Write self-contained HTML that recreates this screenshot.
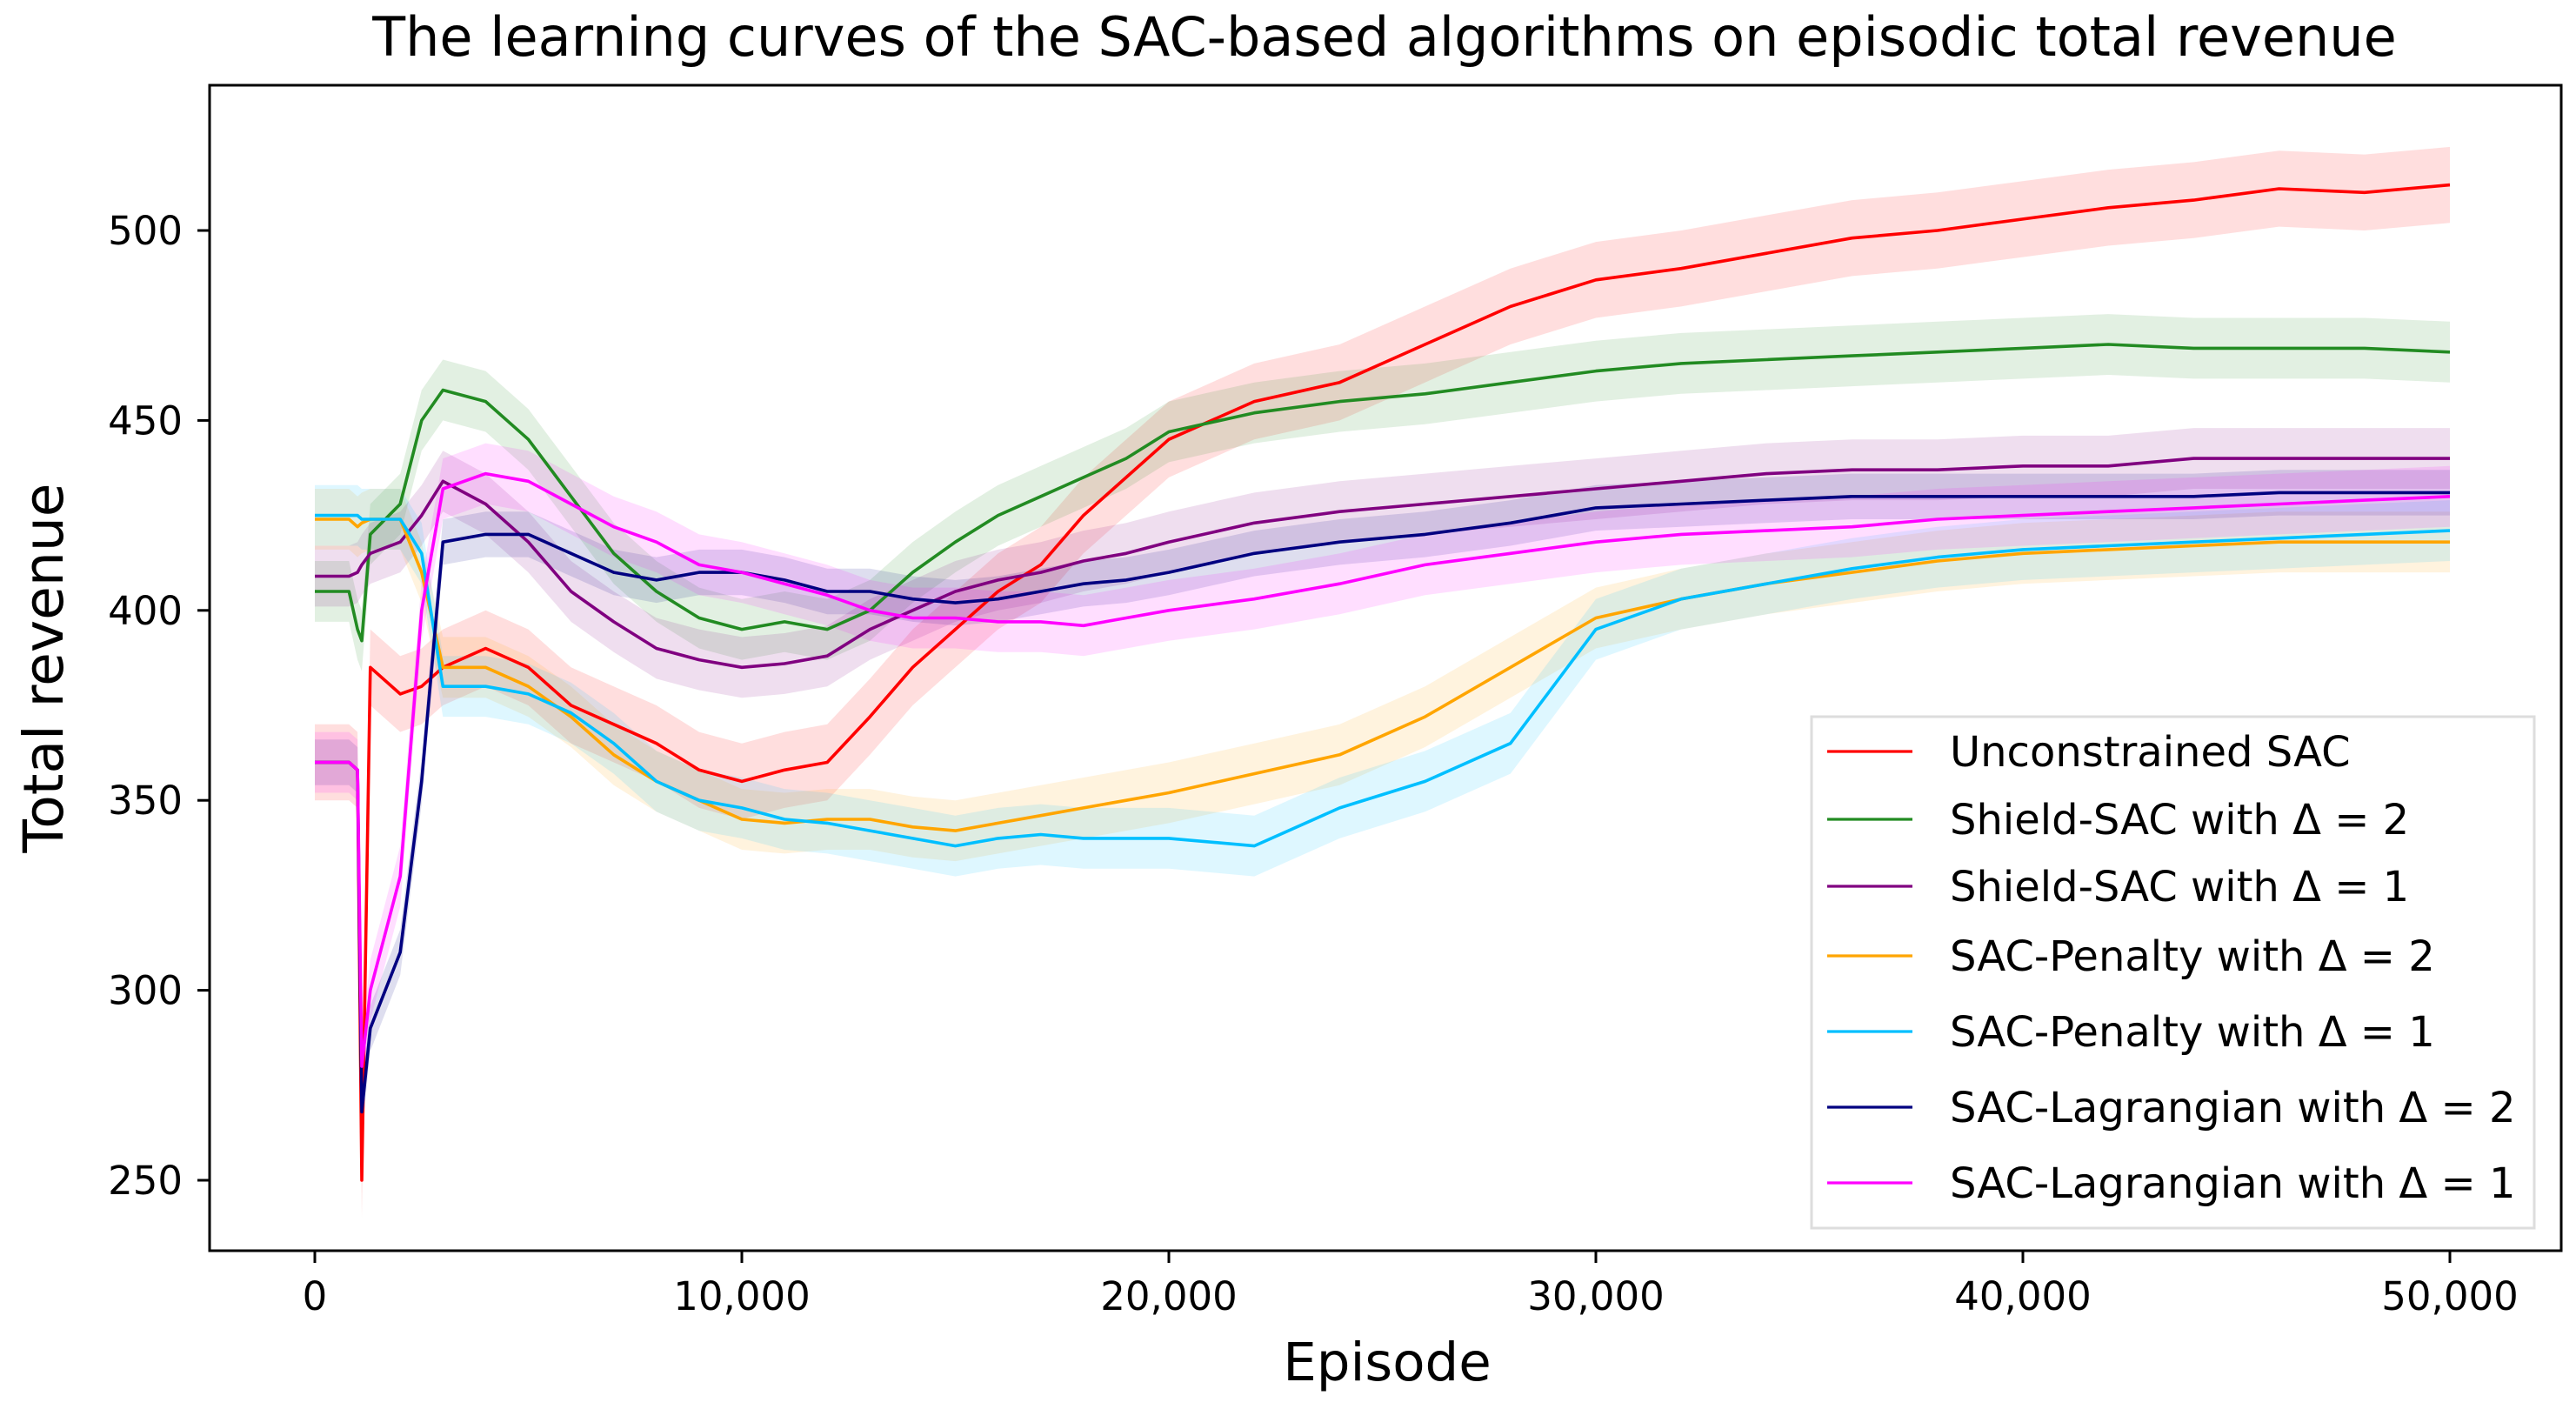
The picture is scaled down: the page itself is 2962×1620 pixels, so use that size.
<!DOCTYPE html>
<html><head><meta charset="utf-8">
<style>
html,body{margin:0;padding:0;background:#fff;}
svg{display:block;font-family:"DejaVu Sans","Liberation Sans",sans-serif;}
</style></head>
<body>
<svg id="chart" width="2962" height="1620" viewBox="0 0 2962 1620" xmlns="http://www.w3.org/2000/svg">
<text x="1592" y="64" font-size="62" text-anchor="middle" fill="#000">The learning curves of the SAC-based algorithms on episodic total revenue</text>
<g id="bands"></g>
<g id="lines"></g>
<rect x="241" y="98" width="2704" height="1340" fill="none" stroke="#000" stroke-width="3"/>
<g id="xticks"></g>
<g id="yticks"></g>
<text x="1595" y="1587" font-size="61" text-anchor="middle">Episode</text>
<text transform="translate(72,768) rotate(-90)" font-size="63" text-anchor="middle">Total revenue</text>
<g id="legend">
<rect x="2083" y="824" width="831" height="588" fill="#fff" fill-opacity="0.9" stroke="#ddd" stroke-width="3"/>
</g>
</svg>
<script>
const episodes=[0,800,1000,1100,1300,2000,2500,3000,4000,5000,6000,7000,8000,9000,10000,11000,12000,13000,14000,15000,16000,17000,18000,19000,20000,22000,24000,26000,28000,30000,32000,34000,36000,38000,40000,42000,44000,46000,48000,50000];
const seriesNames=["Unconstrained SAC","Shield-SAC with Δ = 2","Shield-SAC with Δ = 1","SAC-Penalty with Δ = 2","SAC-Penalty with Δ = 1","SAC-Lagrangian with Δ = 2","SAC-Lagrangian with Δ = 1"];
const seriesColors=["#ff0000","#228b22","#800080","#ffa500","#00bfff","#000080","#ff00ff"];
const redValues=[360,360,358,250,385,378,380,385,390,385,375,370,365,358,355,358,360,372,385,395,405,412,425,435,445,455,460,470,480,487,490,494,498,500,503,506,508,511,510,512];
const greenValues=[405,405,395,392,420,428,450,458,455,445,430,415,405,398,395,397,395,400,410,418,425,430,435,440,447,452,455,457,460,463,465,466,467,468,469,470,469,469,469,468];
const purpleValues=[409,409,410,412,415,418,425,434,428,418,405,397,390,387,385,386,388,395,400,405,408,410,413,415,418,423,426,428,430,432,434,436,437,437,438,438,440,440,440,440];
const orangeValues=[424,424,422,423,424,424,410,385,385,380,372,362,355,350,345,344,345,345,343,342,344,346,348,350,352,357,362,372,385,398,403,407,410,413,415,416,417,418,418,418];
const cyanValues=[425,425,425,424,424,424,415,380,380,378,373,365,355,350,348,345,344,342,340,338,340,341,340,340,340,338,348,355,365,395,403,407,411,414,416,417,418,419,420,421];
const navyValues=[360,360,358,268,290,310,355,418,420,420,415,410,408,410,410,408,405,405,403,402,403,405,407,408,410,415,418,420,423,427,428,429,430,430,430,430,430,431,431,431];
const magentaValues=[360,360,358,280,300,330,400,432,436,434,428,422,418,412,410,407,404,400,398,398,397,397,396,398,400,403,407,412,415,418,420,421,422,424,425,426,427,428,429,430];
const bandHalfWidths=[10,8,8,8,8,6,8];
const xTicks=[0,10000,20000,30000,40000,50000];
const xTickLabels=["0","10,000","20,000","30,000","40,000","50,000"];
const yTicks=[250,300,350,400,450,500];
const yTickLabels=["250","300","350","400","450","500"];

const allValues=[redValues,greenValues,purpleValues,orangeValues,cyanValues,navyValues,magentaValues];
const NS="http://www.w3.org/2000/svg";
function xs(e){return 362+(e/50000)*(2817-362);}
function ys(v){return 1357-(v-250)/250*(1357-265);}
function mk(tag,attrs,parent){const el=document.createElementNS(NS,tag);for(const k in attrs)el.setAttribute(k,attrs[k]);parent.appendChild(el);return el;}
const bands=document.getElementById('bands'),lines=document.getElementById('lines');
allValues.forEach((vals,i)=>{
  const hw=bandHalfWidths[i];
  let up=episodes.map((e,j)=>xs(e).toFixed(1)+','+ys(vals[j]+hw).toFixed(1));
  let dn=episodes.map((e,j)=>xs(e).toFixed(1)+','+ys(vals[j]-hw).toFixed(1)).reverse();
  const b=mk('polygon',{points:up.concat(dn).join(' '),fill:seriesColors[i],'fill-opacity':0.13,stroke:'none'},bands);
  
  
});
allValues.forEach((vals,i)=>{
  const pts=episodes.map((e,j)=>xs(e).toFixed(1)+','+ys(vals[j]).toFixed(1)).join(' ');
  const l=mk('polyline',{points:pts,fill:'none',stroke:seriesColors[i],'stroke-width':3.6,'stroke-linejoin':'round'},lines);
  
  
});
const xg=document.getElementById('xticks');
xTicks.forEach((t,i)=>{
  const tk=mk('line',{x1:xs(t),x2:xs(t),y1:1438,y2:1452,stroke:'#000','stroke-width':3},xg);
  
  
  const tx=mk('text',{x:xs(t),y:1506,'font-size':45,'text-anchor':'middle'},xg);
  tx.textContent=xTickLabels[i];
  
  
});
const yg=document.getElementById('yticks');
yTicks.forEach((t,i)=>{
  const tk=mk('line',{x1:227,x2:241,y1:ys(t),y2:ys(t),stroke:'#000','stroke-width':3},yg);
  
  
  const tx=mk('text',{x:210,y:ys(t)+16,'font-size':45,'text-anchor':'end'},yg);
  tx.textContent=yTickLabels[i];
  
  
});
const lg=document.getElementById('legend');
const legendY=[864,942,1019,1099,1186,1273,1360];
seriesNames.forEach((n,i)=>{
  const ln=mk('line',{x1:2101,x2:2199,y1:legendY[i],y2:legendY[i],stroke:seriesColors[i],'stroke-width':3.2},lg);
  
  
  const tx=mk('text',{x:2242,y:legendY[i]+17,'font-size':48},lg);
  tx.textContent=n;
  
  
});
</script>
</body></html>
